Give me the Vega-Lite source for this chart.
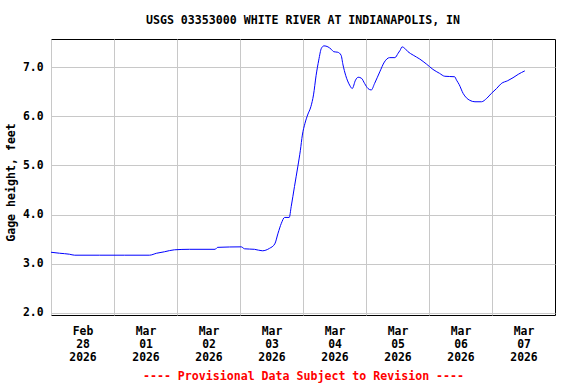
{
  "$schema": "https://vega.github.io/schema/vega-lite/v6.json",
  "width": 504,
  "height": 276,
  "autosize": "none",
  "padding": {"left": 51, "top": 39, "right": 21, "bottom": 69},
  "background": "white",
  "title": {
    "text": "USGS 03353000 WHITE RIVER AT INDIANAPOLIS, IN",
    "font": "DejaVu Sans Mono",
    "fontSize": 11.6,
    "fontWeight": "bold",
    "color": "black",
    "anchor": "middle",
    "offset": 12
  },
  "config": {
    "view": {"stroke": "black", "strokeWidth": 1},
    "axis": {
      "labelFont": "DejaVu Sans Mono",
      "labelFontWeight": "bold",
      "labelFontSize": 11.4,
      "labelColor": "black",
      "titleFont": "DejaVu Sans Mono",
      "titleFontWeight": "bold",
      "titleFontSize": 11.6,
      "gridColor": "#c8c8c8",
      "gridWidth": 1,
      "gridOpacity": 1,
      "domain": false,
      "ticks": false
    }
  },
  "data": {
    "values": [
      {"t": "2026-02-28T00:00:00Z", "v": 3.23},
      {"t": "2026-02-28T03:15:00Z", "v": 3.21},
      {"t": "2026-02-28T07:00:00Z", "v": 3.19},
      {"t": "2026-02-28T09:00:00Z", "v": 3.17},
      {"t": "2026-02-28T18:30:00Z", "v": 3.17},
      {"t": "2026-03-01T04:00:00Z", "v": 3.17},
      {"t": "2026-03-01T13:30:00Z", "v": 3.17},
      {"t": "2026-03-01T16:15:00Z", "v": 3.21},
      {"t": "2026-03-01T19:15:00Z", "v": 3.24},
      {"t": "2026-03-01T23:00:00Z", "v": 3.28},
      {"t": "2026-03-02T04:45:00Z", "v": 3.29},
      {"t": "2026-03-02T14:30:00Z", "v": 3.29},
      {"t": "2026-03-02T15:30:00Z", "v": 3.33},
      {"t": "2026-03-03T00:30:00Z", "v": 3.34},
      {"t": "2026-03-03T01:45:00Z", "v": 3.30},
      {"t": "2026-03-03T05:30:00Z", "v": 3.29},
      {"t": "2026-03-03T08:30:00Z", "v": 3.26},
      {"t": "2026-03-03T11:15:00Z", "v": 3.31},
      {"t": "2026-03-03T13:15:00Z", "v": 3.40},
      {"t": "2026-03-03T14:30:00Z", "v": 3.62},
      {"t": "2026-03-03T15:45:00Z", "v": 3.82},
      {"t": "2026-03-03T17:00:00Z", "v": 3.94},
      {"t": "2026-03-03T18:45:00Z", "v": 3.94},
      {"t": "2026-03-03T19:30:00Z", "v": 4.16},
      {"t": "2026-03-03T20:45:00Z", "v": 4.57},
      {"t": "2026-03-03T22:00:00Z", "v": 4.97},
      {"t": "2026-03-03T23:00:00Z", "v": 5.31},
      {"t": "2026-03-03T23:45:00Z", "v": 5.62},
      {"t": "2026-03-04T00:45:00Z", "v": 5.86},
      {"t": "2026-03-04T01:45:00Z", "v": 6.03},
      {"t": "2026-03-04T03:00:00Z", "v": 6.20},
      {"t": "2026-03-04T04:00:00Z", "v": 6.44},
      {"t": "2026-03-04T05:00:00Z", "v": 6.84},
      {"t": "2026-03-04T06:00:00Z", "v": 7.15},
      {"t": "2026-03-04T07:00:00Z", "v": 7.39},
      {"t": "2026-03-04T08:00:00Z", "v": 7.44},
      {"t": "2026-03-04T09:30:00Z", "v": 7.42},
      {"t": "2026-03-04T10:45:00Z", "v": 7.37},
      {"t": "2026-03-04T11:45:00Z", "v": 7.32},
      {"t": "2026-03-04T13:15:00Z", "v": 7.31},
      {"t": "2026-03-04T14:30:00Z", "v": 7.25},
      {"t": "2026-03-04T15:15:00Z", "v": 7.05},
      {"t": "2026-03-04T16:15:00Z", "v": 6.84},
      {"t": "2026-03-04T17:45:00Z", "v": 6.64},
      {"t": "2026-03-04T18:45:00Z", "v": 6.57},
      {"t": "2026-03-04T20:00:00Z", "v": 6.74},
      {"t": "2026-03-04T21:00:00Z", "v": 6.80},
      {"t": "2026-03-04T22:15:00Z", "v": 6.78},
      {"t": "2026-03-04T23:30:00Z", "v": 6.67},
      {"t": "2026-03-05T00:45:00Z", "v": 6.57},
      {"t": "2026-03-05T02:00:00Z", "v": 6.54},
      {"t": "2026-03-05T03:15:00Z", "v": 6.67},
      {"t": "2026-03-05T05:15:00Z", "v": 6.91},
      {"t": "2026-03-05T07:00:00Z", "v": 7.11},
      {"t": "2026-03-05T09:00:00Z", "v": 7.20},
      {"t": "2026-03-05T11:00:00Z", "v": 7.20},
      {"t": "2026-03-05T12:15:00Z", "v": 7.29},
      {"t": "2026-03-05T13:00:00Z", "v": 7.35},
      {"t": "2026-03-05T13:45:00Z", "v": 7.42},
      {"t": "2026-03-05T14:45:00Z", "v": 7.39},
      {"t": "2026-03-05T16:00:00Z", "v": 7.32},
      {"t": "2026-03-05T18:00:00Z", "v": 7.25},
      {"t": "2026-03-05T20:30:00Z", "v": 7.17},
      {"t": "2026-03-05T23:00:00Z", "v": 7.07},
      {"t": "2026-03-06T01:30:00Z", "v": 6.96},
      {"t": "2026-03-06T04:00:00Z", "v": 6.88},
      {"t": "2026-03-06T06:00:00Z", "v": 6.82},
      {"t": "2026-03-06T09:45:00Z", "v": 6.81},
      {"t": "2026-03-06T10:30:00Z", "v": 6.74},
      {"t": "2026-03-06T11:30:00Z", "v": 6.65},
      {"t": "2026-03-06T13:00:00Z", "v": 6.47},
      {"t": "2026-03-06T14:15:00Z", "v": 6.38},
      {"t": "2026-03-06T15:30:00Z", "v": 6.33},
      {"t": "2026-03-06T17:30:00Z", "v": 6.30},
      {"t": "2026-03-06T20:00:00Z", "v": 6.30},
      {"t": "2026-03-06T22:00:00Z", "v": 6.37},
      {"t": "2026-03-06T23:45:00Z", "v": 6.47},
      {"t": "2026-03-07T01:45:00Z", "v": 6.57},
      {"t": "2026-03-07T03:30:00Z", "v": 6.67},
      {"t": "2026-03-07T06:00:00Z", "v": 6.73},
      {"t": "2026-03-07T08:00:00Z", "v": 6.79},
      {"t": "2026-03-07T10:00:00Z", "v": 6.86},
      {"t": "2026-03-07T12:30:00Z", "v": 6.93}
    ]
  },
  "mark": {"type": "line", "color": "#0000ff", "strokeWidth": 1, "interpolate": "monotone"},
  "encoding": {
    "x": {
      "field": "t",
      "type": "temporal",
      "scale": {
        "type": "utc",
        "domain": [
          {"year": 2026, "month": 2, "date": 28, "utc": true},
          {"year": 2026, "month": 3, "date": 8, "utc": true}
        ]
      },
      "axis": {
        "values": [
          {"year": 2026, "month": 2, "date": 28, "utc": true},
          {"year": 2026, "month": 3, "date": 1, "utc": true},
          {"year": 2026, "month": 3, "date": 2, "utc": true},
          {"year": 2026, "month": 3, "date": 3, "utc": true},
          {"year": 2026, "month": 3, "date": 4, "utc": true},
          {"year": 2026, "month": 3, "date": 5, "utc": true},
          {"year": 2026, "month": 3, "date": 6, "utc": true},
          {"year": 2026, "month": 3, "date": 7, "utc": true}
        ],
        "labelExpr": "[utcFormat(datum.value, '%b'), utcFormat(datum.value, '%d'), utcFormat(datum.value, '%Y')]",
        "labelOffset": 31.5,
        "labelAlign": "center",
        "labelBaseline": "top",
        "labelLineHeight": 13,
        "labelPadding": 10,
        "labelFlush": false,
        "labelOverlap": false,
        "title": "---- Provisional Data Subject to Revision ----",
        "titleColor": "#ff0000",
        "titlePadding": 8
      }
    },
    "y": {
      "field": "v",
      "type": "quantitative",
      "scale": {"domain": [1.95, 7.58], "nice": false, "zero": false},
      "axis": {
        "values": [2, 3, 4, 5, 6, 7],
        "format": ".1f",
        "labelPadding": 8,
        "title": "Gage height, feet",
        "titlePadding": 6,
        "titleY": 143
      }
    }
  }
}
